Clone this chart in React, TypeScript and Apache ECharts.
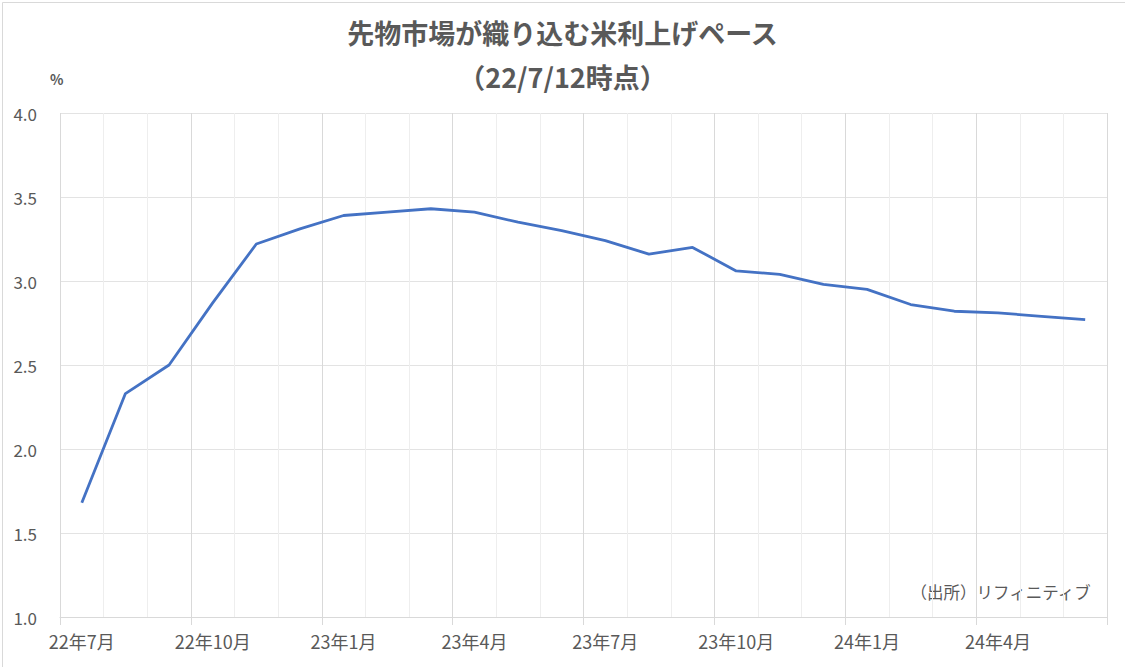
import React, { useEffect, useRef } from "react";
import * as echarts from "echarts";

const months: string[] = [
  "22年7月", "22年8月", "22年9月", "22年10月", "22年11月", "22年12月",
  "23年1月", "23年2月", "23年3月", "23年4月", "23年5月", "23年6月",
  "23年7月", "23年8月", "23年9月", "23年10月", "23年11月", "23年12月",
  "24年1月", "24年2月", "24年3月", "24年4月", "24年5月", "24年6月",
];

const rateValues: number[] = [
  1.68, 2.33, 2.50, 2.87, 3.22, 3.31,
  3.39, 3.41, 3.43, 3.41, 3.35, 3.30,
  3.24, 3.16, 3.20, 3.06, 3.04, 2.98,
  2.95, 2.86, 2.82, 2.81, 2.79, 2.77,
];

const titleText = "先物市場が織り込む米利上げペース";
const subtitleText = "（22/7/12時点）";
const unitText = "%";
const sourceText = "（出所）リフィニティブ";

const FONT = '"Noto Sans CJK JP", "Noto Sans", sans-serif';
const TEXT_COLOR = "#595959";

export default function App() {
  const ref = useRef<HTMLDivElement>(null);

  useEffect(() => {
    if (!ref.current) return;
    const chart = echarts.init(ref.current, null, { renderer: "svg" });
    chart.setOption({
      animation: false,
      backgroundColor: "#ffffff",
      textStyle: { fontFamily: FONT },
      title: [
        {
          text: titleText,
          left: "center",
          top: 14,
          textStyle: { fontFamily: FONT, fontSize: 27, fontWeight: "bold", color: TEXT_COLOR },
        },
        {
          text: subtitleText,
          left: "center",
          top: 58,
          textStyle: { fontFamily: FONT, fontSize: 27, fontWeight: "bold", color: TEXT_COLOR },
        },
      ],
      grid: { left: 60, right: 18, top: 113, bottom: 50, containLabel: false },
      xAxis: {
        type: "category",
        data: months,
        boundaryGap: true,
        axisLine: { show: true, lineStyle: { color: "#d9d9d9", width: 1 } },
        axisTick: { show: true, interval: 2, length: 8, lineStyle: { color: "#d9d9d9" } },
        axisLabel: {
          interval: 2,
          color: TEXT_COLOR,
          fontFamily: FONT,
          fontSize: 18,
          margin: 15,
        },
        splitLine: {
          show: true,
          interval: 0,
          lineStyle: { color: ["#d9d9d9", "#eeeeee", "#eeeeee"], width: 1 },
        },
      },
      yAxis: {
        type: "value",
        min: 1,
        max: 4,
        interval: 0.5,
        axisLine: { show: false },
        axisTick: { show: false },
        axisLabel: {
          color: TEXT_COLOR,
          fontFamily: FONT,
          fontSize: 17,
          margin: 23,
          formatter: (v: number) => v.toFixed(1),
        },
        splitLine: { show: true, lineStyle: { color: "#e3e3e3", width: 1 } },
      },
      series: [
        {
          type: "line",
          data: rateValues,
          showSymbol: false,
          symbol: "none",
          lineStyle: { color: "#4472C4", width: 2.8 },
          itemStyle: { color: "#4472C4" },
        },
      ],
      graphic: [
        {
          type: "text",
          left: 50,
          top: 72,
          style: { text: unitText, fill: TEXT_COLOR, font: `bold 14px ${FONT}` },
        },
        {
          type: "text",
          right: 33,
          top: 584,
          style: { text: sourceText, fill: TEXT_COLOR, font: `16.5px ${FONT}` },
        },
        {
          type: "rect",
          left: 0,
          top: 0,
          shape: { width: 1124, height: 666 },
          style: { fill: "none", stroke: "#d9d9d9", lineWidth: 1 },
          silent: true,
        },
      ],
    });
    return () => chart.dispose();
  }, []);

  return (
    <div
      ref={ref}
      style={{ position: "fixed", left: 0, top: 0, width: 1125, height: 667 }}
    />
  );
}
